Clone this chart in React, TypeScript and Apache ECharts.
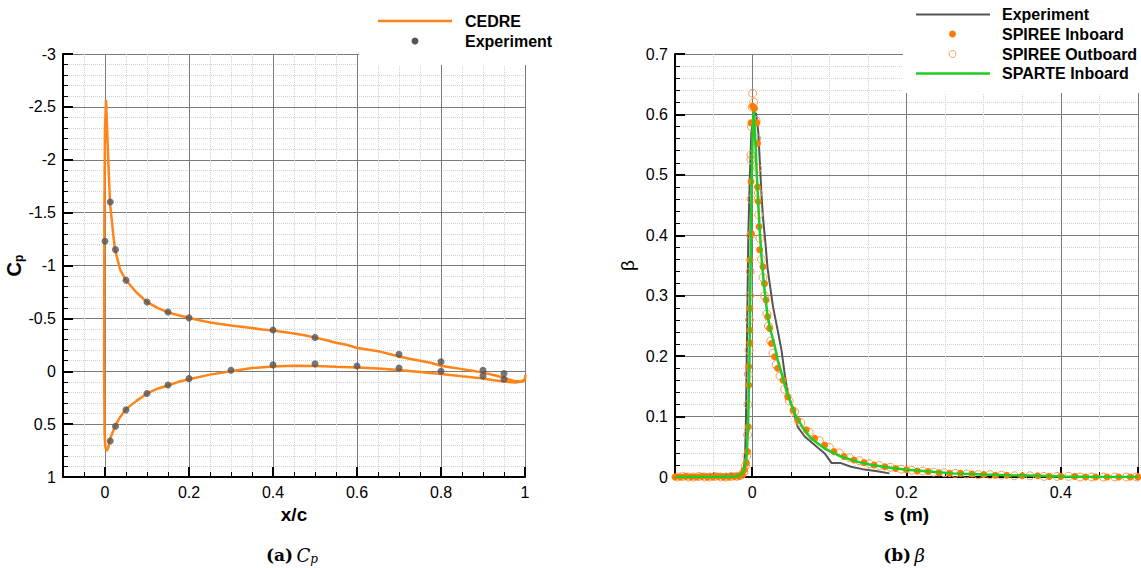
import React, { useEffect, useRef } from "react";
import * as echarts from "echarts";

// ---------- Data: (a) Cp ----------
const cedreSuction: [number, number][] = [
  [1.001, 0.035], [1.0, 0.075], [0.99, 0.097], [0.975, 0.093], [0.96, 0.075], [0.95, 0.062],
  [0.925, 0.035], [0.9, 0.013], [0.875, -0.004], [0.85, -0.02], [0.825, -0.036], [0.8, -0.052],
  [0.775, -0.08], [0.75, -0.1], [0.725, -0.118], [0.7, -0.14], [0.675, -0.165], [0.65, -0.19],
  [0.625, -0.205], [0.6, -0.22], [0.575, -0.25], [0.55, -0.27], [0.525, -0.295], [0.5, -0.318],
  [0.475, -0.34], [0.45, -0.357], [0.425, -0.372], [0.4, -0.385], [0.375, -0.395], [0.35, -0.408],
  [0.325, -0.42], [0.3, -0.432], [0.275, -0.446], [0.25, -0.462], [0.225, -0.482], [0.2, -0.503],
  [0.175, -0.53], [0.15, -0.556], [0.125, -0.6], [0.1, -0.654], [0.075, -0.745], [0.05, -0.86],
  [0.036, -0.96], [0.024, -1.15], [0.02, -1.28], [0.012, -1.59], [0.008, -1.97], [0.005, -2.3],
  [0.0024, -2.566], [0.0, -2.3], [-0.0015, -1.5], [-0.002, 0.0], [-0.001, 0.6], [0.001, 0.72],
  [0.004, 0.755],
];
const cedrePressure: [number, number][] = [
  [0.008, 0.72], [0.012, 0.64], [0.018, 0.58], [0.024, 0.516], [0.035, 0.44], [0.05, 0.358],
  [0.075, 0.28], [0.1, 0.21], [0.125, 0.165], [0.15, 0.135], [0.175, 0.1], [0.2, 0.075],
  [0.25, 0.032], [0.3, 0.0], [0.35, -0.03], [0.4, -0.046], [0.45, -0.053], [0.5, -0.05],
  [0.55, -0.042], [0.6, -0.035], [0.65, -0.025], [0.7, -0.012], [0.75, 0.006], [0.8, 0.026],
  [0.85, 0.048], [0.9, 0.068], [0.925, 0.085], [0.95, 0.098], [0.975, 0.106], [0.99, 0.1], [1.0, 0.09],
];
const expSuction: [number, number][] = [
  [0, -1.23], [0.0125, -1.6], [0.025, -1.15], [0.05, -0.86], [0.1, -0.655], [0.15, -0.56],
  [0.2, -0.505], [0.4, -0.39], [0.5, -0.32], [0.7, -0.16], [0.8, -0.09], [0.9, -0.01], [0.95, 0.022],
];
const expPressure: [number, number][] = [
  [0.0125, 0.66], [0.025, 0.52], [0.05, 0.365], [0.1, 0.21], [0.15, 0.13], [0.2, 0.07],
  [0.3, -0.01], [0.4, -0.06], [0.5, -0.07], [0.6, -0.05], [0.7, -0.03], [0.8, 0.0],
  [0.9, 0.044], [0.95, 0.075],
];

// ---------- Data: (b) beta ----------
const betaExperiment: [number, number][] = [
  [-0.1, 0.003], [-0.08, 0.003], [-0.06, 0.004], [-0.04, 0.004], [-0.02, 0.005], [-0.013, 0.006],
  [-0.011, 0.012], [-0.009, 0.04], [-0.008, 0.1], [-0.007, 0.2], [-0.006, 0.3], [-0.005, 0.4],
  [-0.003, 0.5], [-0.001, 0.57], [0.002, 0.6], [0.005, 0.602], [0.008, 0.57], [0.01, 0.52],
  [0.012, 0.47], [0.014, 0.43], [0.017, 0.39], [0.02, 0.345], [0.027, 0.282], [0.033, 0.243],
  [0.038, 0.21], [0.042, 0.172], [0.046, 0.139], [0.053, 0.111], [0.059, 0.083], [0.068, 0.067],
  [0.081, 0.053], [0.094, 0.039], [0.103, 0.023], [0.115, 0.023], [0.128, 0.017], [0.143, 0.013],
  [0.16, 0.01], [0.178, 0.006],
];
const spireeInboard: [number, number][] = [
  [-0.1, 0.0], [-0.093, 0.0], [-0.086, 0.001], [-0.079, 0.0], [-0.072, 0.0], [-0.065, 0.001],
  [-0.058, 0.0], [-0.051, 0.0], [-0.044, 0.001], [-0.037, 0.0], [-0.03, 0.0], [-0.023, 0.001],
  [-0.017, 0.001], [-0.013, 0.004], [-0.01, 0.012], [-0.0075, 0.023], [-0.006, 0.042],
  [-0.005, 0.083], [-0.0045, 0.152], [-0.0045, 0.183], [-0.003, 0.222], [-0.003, 0.243],
  [-0.003, 0.279], [-0.003, 0.359], [-0.001, 0.403], [-0.0015, 0.489], [-0.0015, 0.586],
  [0.0006, 0.613], [0.003, 0.61], [0.006, 0.586], [0.007, 0.552], [0.007, 0.48], [0.008, 0.456],
  [0.009, 0.414], [0.0097, 0.376], [0.014, 0.348], [0.016, 0.32], [0.018, 0.293], [0.02, 0.265],
  [0.0226, 0.246], [0.025, 0.221], [0.029, 0.199], [0.033, 0.18], [0.04, 0.16], [0.046, 0.133],
  [0.053, 0.111], [0.059, 0.094], [0.07, 0.078], [0.081, 0.064], [0.094, 0.053], [0.106, 0.042],
  [0.119, 0.034], [0.132, 0.028], [0.145, 0.024], [0.158, 0.02], [0.172, 0.017], [0.186, 0.014],
  [0.2, 0.012], [0.214, 0.01], [0.228, 0.009], [0.242, 0.007], [0.256, 0.006], [0.27, 0.006],
  [0.285, 0.005], [0.3, 0.004], [0.315, 0.003], [0.33, 0.003], [0.35, 0.002], [0.37, 0.002],
  [0.385, 0.001], [0.4, 0.001], [0.418, 0.001], [0.432, 0.0], [0.445, 0.0], [0.46, 0.0],
  [0.475, 0.0], [0.49, 0.0], [0.5, 0.0],
];
const spireeOutboard: [number, number][] = [
  [-0.097, 0.0], [-0.09, 0.001], [-0.083, 0.0], [-0.076, 0.0], [-0.069, 0.001], [-0.062, 0.0],
  [-0.055, 0.0], [-0.048, 0.001], [-0.041, 0.0], [-0.034, 0.0], [-0.027, 0.001], [-0.02, 0.001],
  [-0.014, 0.003], [-0.011, 0.008], [-0.009, 0.018], [-0.007, 0.035], [-0.006, 0.07],
  [-0.0055, 0.12], [-0.005, 0.17], [-0.004, 0.21], [-0.0035, 0.26], [-0.003, 0.3], [-0.0025, 0.34],
  [-0.002, 0.4], [-0.0015, 0.46], [-0.0015, 0.525], [-0.0015, 0.533], [-0.001, 0.58], [0.0, 0.612],
  [0.0006, 0.635], [0.002, 0.62], [0.005, 0.59], [0.006, 0.56], [0.007, 0.511], [0.008, 0.47],
  [0.0085, 0.434], [0.01, 0.395], [0.012, 0.36], [0.014, 0.33], [0.016, 0.3], [0.019, 0.27],
  [0.021, 0.25], [0.024, 0.225], [0.027, 0.205], [0.031, 0.186], [0.036, 0.167], [0.042, 0.145],
  [0.048, 0.126], [0.055, 0.108], [0.063, 0.09], [0.074, 0.074], [0.087, 0.06], [0.1, 0.049],
  [0.113, 0.04], [0.126, 0.032], [0.139, 0.027], [0.152, 0.022], [0.165, 0.019], [0.179, 0.016],
  [0.193, 0.013], [0.207, 0.011], [0.221, 0.01], [0.235, 0.008], [0.249, 0.007], [0.263, 0.006],
  [0.278, 0.005], [0.293, 0.004], [0.308, 0.004], [0.323, 0.003], [0.34, 0.002], [0.36, 0.002],
  [0.378, 0.001], [0.395, 0.001], [0.41, 0.001], [0.425, 0.0], [0.44, 0.0], [0.455, 0.0],
  [0.47, 0.0], [0.485, 0.0], [0.498, 0.0],
];
const sparteInboard: [number, number][] = [
  [-0.1, 0.0], [-0.05, 0.0], [-0.02, 0.001], [-0.015, 0.004], [-0.012, 0.008], [-0.01, 0.015],
  [-0.0075, 0.028], [-0.0054, 0.078], [-0.0036, 0.188], [-0.0023, 0.326], [-0.0015, 0.41],
  [-0.0005, 0.5], [0.0008, 0.58], [0.002, 0.605], [0.004, 0.56], [0.006, 0.5], [0.008, 0.45],
  [0.0097, 0.41], [0.0127, 0.354], [0.016, 0.31], [0.0196, 0.27], [0.0226, 0.249], [0.029, 0.218],
  [0.033, 0.194], [0.038, 0.172], [0.044, 0.144], [0.05, 0.122], [0.057, 0.1], [0.066, 0.081],
  [0.076, 0.064], [0.094, 0.047], [0.115, 0.034], [0.137, 0.025], [0.155, 0.02], [0.175, 0.016],
  [0.2, 0.012], [0.23, 0.009], [0.26, 0.006], [0.3, 0.004], [0.33, 0.003], [0.37, 0.002],
  [0.4, 0.001], [0.45, 0.0], [0.5, 0.0],
];

const SANS = '"Liberation Sans", Arial, Helvetica, sans-serif';
const SERIF = '"DejaVu Serif", "Liberation Serif", serif';
const ORANGE = "#ff8419";
const DOT = "#ff7a00";
const HOLLOW = "#ff9a50";
const GRAY = "#555555";
const GREEN = "#22cc22";

const fmt02 = (v: number) => {
  const k = v / 0.2;
  return Math.abs(k - Math.round(k)) < 1e-6 ? String(+v.toFixed(1)) : "";
};

const axisCommon = {
  axisLine: { show: true, onZero: false, lineStyle: { color: "#000", width: 2 } },
  axisTick: { show: true, inside: true, length: 10, lineStyle: { color: "#000", width: 2 } },
  minorTick: { show: true, length: 5, lineStyle: { color: "#000", width: 1 } },
  splitLine: { show: true, lineStyle: { color: "#7a7a7a", width: 1 } },
  minorSplitLine: { show: true, lineStyle: { color: "#d2d2d2", width: 1, type: "dotted" } },
  axisLabel: { color: "#000", fontSize: 16, fontFamily: SANS, margin: 7 },
  nameTextStyle: { color: "#000", fontSize: 19, fontWeight: "bold", fontFamily: SANS },
};

export default function App() {
  const ref = useRef<HTMLDivElement>(null);
  useEffect(() => {
    if (!ref.current) return;
    const chart = echarts.init(ref.current, undefined, { renderer: "svg" });
    const legendText = (x: number, y: number, t: string) => ({
      type: "text", x, y, z: 101,
      style: { text: t, fill: "#000", font: `bold 16px ${SANS}`, textAlign: "left", textVerticalAlign: "middle", align: "left", verticalAlign: "middle" },
    });
    chart.setOption({
      animation: false,
      backgroundColor: "#fff",
      grid: [
        { left: 63, top: 54, width: 462, height: 423 },
        { left: 675, top: 54, width: 465, height: 423 },
      ],
      xAxis: [
        {
          ...axisCommon, type: "value", gridIndex: 0, min: -0.1, max: 1, splitNumber: 5,
          minorTick: { ...axisCommon.minorTick, splitNumber: 4 },
          axisLabel: { ...axisCommon.axisLabel, formatter: fmt02 },
          name: "x/c", nameLocation: "middle", nameGap: 21,
        },
        {
          ...axisCommon, type: "value", gridIndex: 1, min: -0.1, max: 0.5, splitNumber: 3,
          minorTick: { ...axisCommon.minorTick, splitNumber: 4 },
          axisLabel: { ...axisCommon.axisLabel, formatter: fmt02 },
          name: "s (m)", nameLocation: "middle", nameGap: 21,
        },
      ],
      yAxis: [
        {
          ...axisCommon, type: "value", gridIndex: 0, min: -3, max: 1, interval: 0.5, inverse: true,
          minorTick: { ...axisCommon.minorTick, splitNumber: 5 },
          name: "{c|C}{p|p}", nameLocation: "middle", nameGap: 36, nameRotate: 90,
          nameTextStyle: {
            ...axisCommon.nameTextStyle,
            rich: {
              c: { fontSize: 20, fontWeight: "bold", fontFamily: SANS, color: "#000" },
              p: { fontSize: 12, fontWeight: "bold", fontFamily: SANS, color: "#000", padding: [9, 0, 0, 0] },
            },
          },
        },
        {
          ...axisCommon, type: "value", gridIndex: 1, min: 0, max: 0.7, interval: 0.1,
          minorTick: { ...axisCommon.minorTick, splitNumber: 5 },
          name: "β", nameLocation: "middle", nameGap: 38, nameRotate: 90,
          nameTextStyle: { color: "#000", fontSize: 19, fontWeight: "normal", fontFamily: SANS },
        },
      ],
      series: [
        {
          name: "CEDRE", type: "line", xAxisIndex: 0, yAxisIndex: 0,
          data: [...cedreSuction, ...cedrePressure], showSymbol: false, symbol: "none",
          lineStyle: { color: ORANGE, width: 2.5 }, z: 3,
        },
        {
          name: "Experiment", type: "scatter", xAxisIndex: 0, yAxisIndex: 0,
          data: [...expSuction, ...expPressure], symbol: "circle", symbolSize: 7,
          itemStyle: { color: GRAY }, z: 4,
        },
        {
          name: "Experiment β", type: "line", xAxisIndex: 1, yAxisIndex: 1,
          data: betaExperiment, showSymbol: false, symbol: "none",
          lineStyle: { color: GRAY, width: 2 }, z: 3,
        },
        {
          name: "SPIREE Outboard", type: "scatter", xAxisIndex: 1, yAxisIndex: 1,
          data: spireeOutboard, symbol: "circle", symbolSize: 8,
          itemStyle: { color: "rgba(255,255,255,0)", borderColor: HOLLOW, borderWidth: 1, opacity: 1 }, z: 4,
        },
        {
          name: "SPIREE Inboard", type: "scatter", xAxisIndex: 1, yAxisIndex: 1,
          data: spireeInboard, symbol: "circle", symbolSize: 7,
          itemStyle: { color: DOT, opacity: 1 }, z: 5,
        },
        {
          name: "SPARTE Inboard", type: "line", xAxisIndex: 1, yAxisIndex: 1,
          data: sparteInboard, showSymbol: false, symbol: "none",
          lineStyle: { color: GREEN, width: 2.5 }, z: 6,
        },
      ],
      graphic: [
        { type: "rect", z: 100, shape: { x: 359, y: 0, width: 215, height: 65 }, style: { fill: "#fff" } },
        { type: "rect", z: 100, shape: { x: 903, y: 0, width: 238, height: 93 }, style: { fill: "#fff" } },
        { type: "line", z: 101, shape: { x1: 378, y1: 21, x2: 452, y2: 21 }, style: { stroke: ORANGE, lineWidth: 2.5 } },
        legendText(465, 21, "CEDRE"),
        { type: "circle", z: 101, shape: { cx: 415, cy: 41, r: 3.5 }, style: { fill: GRAY } },
        legendText(465, 41, "Experiment"),
        { type: "line", z: 101, shape: { x1: 916, y1: 14.5, x2: 990, y2: 14.5 }, style: { stroke: GRAY, lineWidth: 2 } },
        legendText(1002, 14.5, "Experiment"),
        { type: "circle", z: 101, shape: { cx: 952.5, cy: 34, r: 3.5 }, style: { fill: DOT } },
        legendText(1002, 34, "SPIREE Inboard"),
        { type: "circle", z: 101, shape: { cx: 952.5, cy: 54, r: 3.5 }, style: { fill: "#fff", stroke: HOLLOW, lineWidth: 1 } },
        legendText(1002, 54, "SPIREE Outboard"),
        { type: "line", z: 101, shape: { x1: 916, y1: 73.5, x2: 990, y2: 73.5 }, style: { stroke: GREEN, lineWidth: 2.5 } },
        legendText(1002, 73.5, "SPARTE Inboard"),
        {
          type: "text", x: 292, y: 555, z: 101,
          style: {
            text: "{b|(a)} {i|C}{s|p}", textAlign: "center", textVerticalAlign: "middle", align: "center", verticalAlign: "middle",
            rich: {
              b: { fontFamily: SERIF, fontWeight: "bold", fontSize: 17, fill: "#000" },
              i: { fontFamily: SERIF, fontStyle: "italic", fontSize: 18, fill: "#000" },
              s: { fontFamily: SERIF, fontStyle: "italic", fontSize: 12, fill: "#000", padding: [8, 0, 0, 0] },
            },
          },
        },
        {
          type: "text", x: 904, y: 555, z: 101,
          style: {
            text: "{b|(b)} {i|β}", textAlign: "center", textVerticalAlign: "middle", align: "center", verticalAlign: "middle",
            rich: {
              b: { fontFamily: SERIF, fontWeight: "bold", fontSize: 17, fill: "#000" },
              i: { fontFamily: SERIF, fontStyle: "italic", fontSize: 18, fill: "#000" },
            },
          },
        },
      ],
    });
    return () => chart.dispose();
  }, []);
  return <div ref={ref} style={{ position: "absolute", left: 0, top: 0, width: 1141, height: 568 }} />;
}
